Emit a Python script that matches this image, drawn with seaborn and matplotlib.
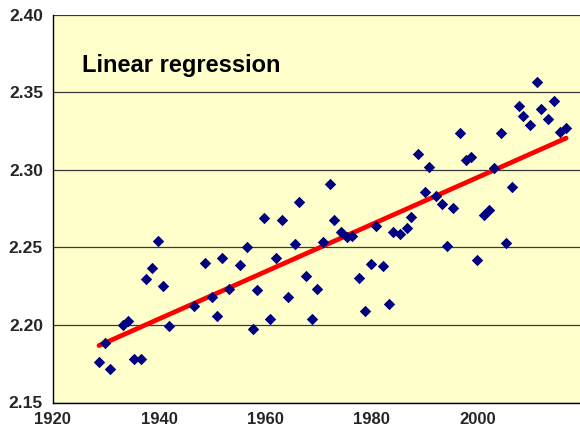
import matplotlib
matplotlib.use('Agg')
import matplotlib.pyplot as plt
import numpy as np
import pandas as pd
import seaborn as sns
from matplotlib.ticker import FormatStrFormatter

# data
years = [1928.7, 1929.9, 1930.8, 1933.3, 1934.1, 1935.3, 1936.6, 1937.5, 1938.6, 1939.8,
         1940.8, 1941.9, 1946.6, 1948.7, 1949.9, 1951.0, 1951.9, 1953.2, 1955.2, 1956.5,
         1957.6, 1958.5, 1959.8, 1960.9, 1962.0, 1963.1, 1964.3, 1965.5, 1966.3, 1967.6,
         1968.8, 1969.7, 1970.9, 1972.2, 1973.0, 1974.2, 1975.4, 1976.4, 1977.6, 1978.8,
         1979.9, 1980.8, 1982.1, 1983.3, 1984.1, 1985.3, 1986.6, 1987.5, 1988.7, 1990.0,
         1990.8, 1992.1, 1993.2, 1994.1, 1995.4, 1996.6, 1997.8, 1998.7, 1999.8, 2001.2,
         2002.0, 2003.1, 2004.3, 2005.3, 2006.5, 2007.7, 2008.5, 2009.8, 2011.1, 2011.9,
         2013.1, 2014.3, 2015.4, 2016.6]
values = [2.1758, 2.1881, 2.1715, 2.1999, 2.2026, 2.1779, 2.1779, 2.2295, 2.2366, 2.2543,
          2.2252, 2.1994, 2.2121, 2.2401, 2.2183, 2.2058, 2.2429, 2.2234, 2.2388, 2.2502,
          2.1973, 2.2225, 2.2687, 2.2037, 2.2429, 2.2676, 2.2181, 2.2521, 2.2794, 2.2315,
          2.2037, 2.2235, 2.2532, 2.2906, 2.2676, 2.2597, 2.2565, 2.2575, 2.2306, 2.2089,
          2.2390, 2.2637, 2.2379, 2.2132, 2.2597, 2.2584, 2.2626, 2.2697, 2.3102, 2.2855,
          2.3020, 2.2833, 2.2779, 2.2510, 2.2752, 2.3237, 2.3063, 2.3085, 2.2418, 2.2708,
          2.2741, 2.3010, 2.3239, 2.2526, 2.2887, 2.3414, 2.3349, 2.3289, 2.3568, 2.3392,
          2.3328, 2.3444, 2.3246, 2.3272]
x_ticks = [1920, 1940, 1960, 1980, 2000]
y_ticks = [2.15, 2.20, 2.25, 2.30, 2.35, 2.40]
title = "Linear regression"

df = pd.DataFrame({"year": years, "value": values})

sns.set_style("white")
plt.rcParams['font.family'] = ['Liberation Sans', 'DejaVu Sans']

fig = plt.figure(figsize=(5.8, 4.37), dpi=100)
fig.patch.set_facecolor('white')
ax = fig.add_axes([52.7 / 580, (437 - 402.5) / 437, (584.2 - 52.7) / 580, (402.5 - 14.8) / 437])
ax.set_facecolor('#FFFFCC')

sns.regplot(data=df, x="year", y="value", ax=ax, scatter=False, ci=None, truncate=True,
            color='#FF0000', line_kws={'linewidth': 3.4, 'solid_capstyle': 'round', 'zorder': 2})
sns.scatterplot(data=df, x="year", y="value", ax=ax, marker='D', s=34, color='#000080',
                linewidth=0, zorder=3, legend=False)

ax.set_xlim(1920, 2020)
ax.set_ylim(2.15, 2.40)
ax.set_xticks(x_ticks)
ax.set_yticks(y_ticks)
ax.yaxis.set_major_formatter(FormatStrFormatter('%.2f'))
ax.grid(axis='y', color='#383838', linewidth=0.9, zorder=0)
ax.set_axisbelow(True)
ax.set_xlabel('')
ax.set_ylabel('')
for s in ['top', 'right']:
    ax.spines[s].set_visible(False)
for s in ['left', 'bottom']:
    ax.spines[s].set_color('black')
    ax.spines[s].set_linewidth(1.0)
ax.tick_params(axis='y', which='major', direction='out', length=3, width=0.9,
               color='black', pad=4)
ax.tick_params(axis='x', which='major', direction='out', length=3, width=0.9,
               color='black', pad=3.5)
for lab in ax.get_yticklabels():
    lab.set_fontweight('bold')
    lab.set_fontsize(12.5)
for lab in ax.get_xticklabels():
    lab.set_fontweight('bold')
    lab.set_fontsize(12)

fig.text(82 / 580, (437 - 72) / 437, title, fontsize=17, fontweight='bold',
         ha='left', va='baseline', color='black')

fig.savefig('out.png', dpi=100)
